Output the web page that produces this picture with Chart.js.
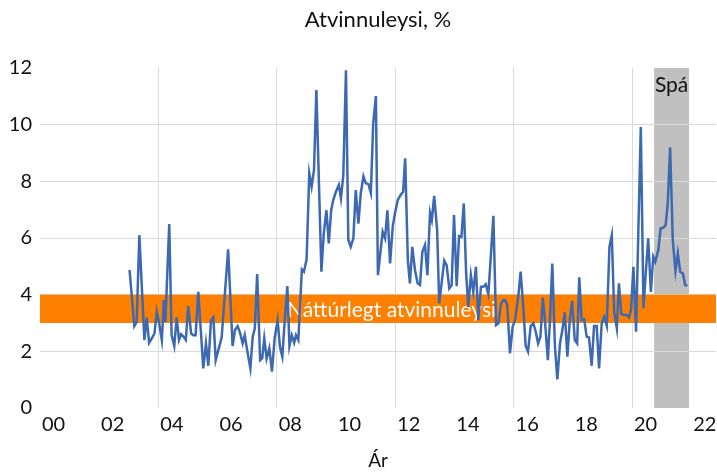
<!DOCTYPE html>
<html>
<head>
<meta charset="utf-8">
<script src="https://cdn.jsdelivr.net/npm/chart.js@4.4.0/dist/chart.umd.min.js"></script>
<style>
  html, body { margin: 0; padding: 0; background: #fff; }
  #wrap { width: 717px; height: 472px; }
</style>
</head>
<body>
<div id="wrap"><canvas id="chart"></canvas></div>
<script>
// years since 2000 (monthly readings) and unemployment rate, %
const years = [2.57, 2.73, 2.81, 2.90, 3.07, 3.15, 3.23, 3.32, 3.41, 3.49, 3.57, 3.66, 3.73, 3.78, 3.91, 3.99,
  4.08, 4.16, 4.24, 4.31, 4.39, 4.47, 4.55, 4.65, 4.72, 4.80, 4.89, 4.98, 5.06, 5.15, 5.23, 5.32, 5.40, 5.48,
  5.57, 5.68, 5.90, 6.05, 6.13, 6.22, 6.30, 6.39, 6.46, 6.55, 6.65, 6.73, 6.80, 6.88, 6.98, 7.05, 7.12, 7.20,
  7.29, 7.38, 7.47, 7.57, 7.65, 7.73, 7.82, 7.90, 7.97, 8.05, 8.13, 8.19, 8.27, 8.39, 8.46, 8.55, 8.64, 8.72,
  8.80, 8.88, 9.05, 9.13, 9.22, 9.30, 9.38, 9.45, 9.54, 9.64, 9.71, 9.79, 9.88, 9.96, 10.04, 10.13, 10.21,
  10.30, 10.38, 10.47, 10.55, 10.64, 10.72, 10.80, 10.89, 10.96, 11.04, 11.12, 11.20, 11.28, 11.37, 11.46,
  11.54, 11.63, 11.72, 11.81, 11.88, 11.97, 12.04, 12.12, 12.21, 12.30, 12.38, 12.46, 12.55, 12.63, 12.72,
  12.78, 12.86, 12.96, 13.03, 13.11, 13.20, 13.28, 13.37, 13.45, 13.53, 13.62, 13.70, 13.78, 13.86, 13.94,
  14.01, 14.10, 14.18, 14.27, 14.35, 14.44, 14.52, 14.60, 14.69, 14.77, 14.86, 14.95, 15.03, 15.12, 15.20,
  15.25, 15.33, 15.42, 15.51, 15.59, 15.70, 15.78, 15.87, 15.95, 16.03, 16.12, 16.21, 16.29, 16.37, 16.45,
  16.53, 16.60, 16.70, 16.77, 16.85, 16.94, 17.02, 17.11, 17.19, 17.27, 17.36, 17.44, 17.52, 17.61, 17.69,
  17.76, 17.84, 17.93, 18.01, 18.09, 18.18, 18.26, 18.35, 18.43, 18.52, 18.60, 18.69, 18.78, 18.86, 18.94,
  19.03, 19.10, 19.18, 19.27, 19.36, 19.44, 19.51, 19.59, 19.68, 19.76, 19.84, 19.93, 20.01, 20.09, 20.18,
  20.26, 20.33, 20.43, 20.51, 20.60, 20.68, 20.75, 20.83, 20.92, 21.01, 21.09, 21.17, 21.26, 21.34, 21.41];
const rate = [4.87, 2.89, 3.04, 6.10, 2.40, 3.19, 2.30, 2.46, 2.63, 3.40, 2.99, 2.40, 3.81, 3.04, 6.49, 2.57,
  2.19, 3.20, 2.40, 2.60, 2.52, 2.40, 3.60, 2.63, 2.57, 2.57, 4.10, 2.69, 1.40, 2.28, 1.49, 3.10, 3.20, 1.69,
  2.05, 2.48, 5.60, 2.19, 2.75, 2.89, 2.66, 2.28, 2.57, 1.99, 1.40, 2.52, 2.81, 4.73, 1.69, 1.75, 2.46, 1.75,
  2.11, 1.28, 2.46, 3.10, 2.16, 1.81, 3.22, 4.30, 2.19, 2.57, 2.30, 2.57, 2.40, 4.89, 4.81, 5.25, 8.28, 7.81,
  8.40, 11.22, 4.81, 6.16, 6.98, 5.81, 6.98, 7.34, 7.63, 7.87, 7.40, 8.22, 11.92, 5.93, 5.69, 5.99, 7.69,
  6.51, 7.57, 8.18, 7.93, 7.90, 7.59, 10.04, 11.01, 4.69, 5.46, 6.22, 5.99, 6.98, 5.10, 6.40,
  6.90, 7.34, 7.51, 7.63, 8.81, 5.22, 4.40, 5.69, 4.87, 4.40, 4.34, 5.51, 5.75, 4.69, 6.89,
  6.63, 7.49, 6.28, 3.69, 4.40, 5.20, 5.04, 4.22, 4.34, 6.81, 4.30, 6.07, 6.04, 7.22, 4.75,
  3.57, 4.69, 4.10, 4.98, 3.10, 4.28, 4.28, 4.37, 4.02, 5.30, 6.78, 2.93, 2.99, 3.69, 3.81,
  3.81, 3.63, 1.93, 2.87, 3.10, 3.93, 4.81, 3.57, 2.19, 1.99, 2.89, 2.99, 2.69, 2.28, 2.52,
  3.90, 3.10, 1.69, 3.10, 5.10, 2.16, 1.01, 2.28, 2.75, 3.38, 1.81, 3.10, 3.78, 2.40, 2.28,
  4.61, 3.10, 3.13, 2.52, 2.49, 1.49, 2.89, 2.89, 1.40, 2.99, 3.22, 2.90, 5.69, 6.10, 3.40,
  2.81, 4.40, 3.32, 3.28, 3.28, 3.20, 3.46, 4.98, 2.69, 6.40, 9.92, 3.52, 4.80, 5.99, 4.10,
  5.34, 5.16, 5.57, 6.34, 6.36, 6.46, 7.22, 9.20, 5.93, 4.84, 5.46, 4.81, 4.75, 4.34, 4.31];

const tickYears = [0, 2, 4, 6, 8, 10, 12, 14, 16, 18, 20, 22];
const tickLabels = ['00', '02', '04', '06', '08', '10', '12', '14', '16', '18', '20', '22'];
const gridYears = [3.55, 7.55, 11.55, 15.55, 19.55];
const naturalBand = [3, 4];
const forecastBand = [20.29, 21.47];

const FONT = 'Lato, "Open Sans", sans-serif';

const bands = {
  id: 'bands',
  beforeDraw(chart) {
    const { ctx, chartArea: a, scales: { x } } = chart;
    ctx.save();
    ctx.fillStyle = '#c0c0c0';
    const x0 = x.getPixelForValue(forecastBand[0]);
    const x1 = x.getPixelForValue(forecastBand[1]);
    ctx.fillRect(x0, a.top, x1 - x0, a.bottom - a.top);
    ctx.restore();
  },
  beforeDatasetsDraw(chart) {
    const { ctx, chartArea: a, scales: { x, y } } = chart;
    ctx.save();
    const yTop = y.getPixelForValue(naturalBand[1]);
    const yBot = y.getPixelForValue(naturalBand[0]);
    ctx.fillStyle = '#ff8000';
    ctx.fillRect(a.left, yTop, a.right - a.left, yBot - yTop);
    ctx.fillStyle = '#ffffff';
    ctx.font = '21px ' + FONT;
    ctx.textAlign = 'center';
    ctx.textBaseline = 'middle';
    ctx.fillText('Náttúrlegt atvinnuleysi', x.getPixelForValue(11.42), (yTop + yBot) / 2 + 1);
    ctx.fillStyle = '#111';
    ctx.font = '21px ' + FONT;
    ctx.fillText('Spá', (x.getPixelForValue(forecastBand[0]) + x.getPixelForValue(forecastBand[1])) / 2, a.top + 17);
    ctx.restore();
  },
  afterDraw(chart) {
    const { ctx, chartArea: a } = chart;
    ctx.save();
    ctx.fillStyle = '#111';
    ctx.font = '22px ' + FONT;
    ctx.textAlign = 'center';
    ctx.textBaseline = 'middle';
    ctx.fillText('Atvinnuleysi, %', (a.left + a.right) / 2, 20);
    ctx.restore();
  }
};

new Chart(document.getElementById('chart'), {
  type: 'line',
  data: {
    datasets: [{
      data: years.map((yr, i) => ({ x: yr, y: rate[i] })),
      borderColor: '#3c69b1',
      borderWidth: 2.5,
      pointRadius: 0,
      tension: 0,
      fill: false
    }]
  },
  options: {
    responsive: true,
    maintainAspectRatio: false,
    animation: false,
    layout: { padding: { top: 68, right: 1, left: 0, bottom: 0 } },
    plugins: { legend: { display: false }, title: { display: false }, tooltip: { enabled: false } },
    scales: {
      x: {
        type: 'linear',
        min: -0.456,
        max: 22.38,
        afterBuildTicks: s => {
          s.ticks = tickYears.concat(gridYears).sort((p, q) => p - q).map(v => ({ value: v }));
        },
        afterFit: s => { s.height = 64; s.paddingLeft = 0; s.paddingRight = 0; },
        ticks: {
          autoSkip: false,
          maxRotation: 0,
          padding: 5,
          color: '#111',
          font: { family: FONT, size: 20 },
          callback: v => {
            const i = tickYears.indexOf(v);
            return i >= 0 ? tickLabels[i] : '';
          }
        },
        grid: {
          drawTicks: false,
          color: c => gridYears.includes(c.tick.value) ? '#d9d9d9' : 'rgba(0,0,0,0)'
        },
        border: { display: false },
        title: {
          display: true,
          text: 'Ár',
          color: '#111',
          font: { family: FONT, size: 19 },
          padding: { top: 0, bottom: 0 }
        }
      },
      y: {
        min: 0,
        max: 12,
        afterFit: s => { s.width = 40; s.paddingTop = 0; s.paddingBottom = 0; },
        ticks: {
          stepSize: 2,
          padding: 8,
          color: '#111',
          font: { family: FONT, size: 20 }
        },
        grid: {
          drawTicks: false,
          color: c => (c.tick.value === 0 || c.tick.value === 12) ? 'rgba(0,0,0,0)' : '#d9d9d9'
        },
        border: { display: false }
      }
    }
  },
  plugins: [bands]
});
</script>
</body>
</html>
